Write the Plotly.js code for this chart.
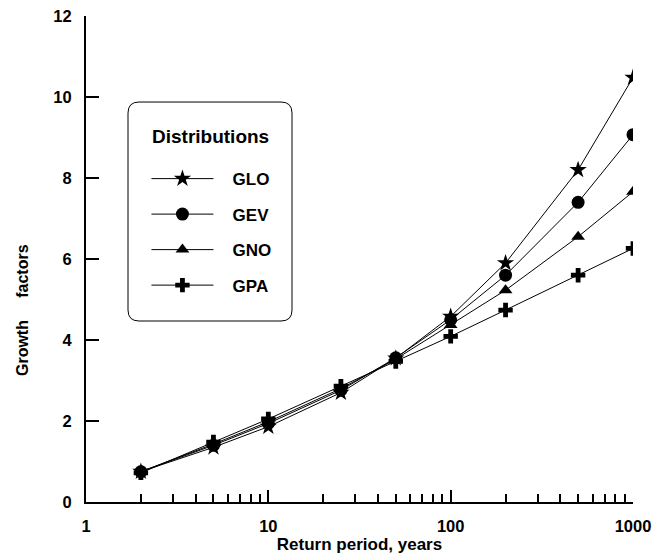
<!DOCTYPE html>
<html>
<head>
<meta charset="utf-8">
<script src="https://cdn.plot.ly/plotly-3.0.1.min.js"></script>
<style>html,body{margin:0;padding:0;background:#fff;}#chart{width:660px;height:554px;}</style>
</head>
<body>
<div id="chart"></div>
<script>
// Return periods (years)
const returnPeriods = [2, 5, 10, 25, 50, 100, 200, 500, 1000];
// Growth factors per distribution
const glo = [0.75, 1.35, 1.86, 2.70, 3.55, 4.58, 5.90, 8.20, 10.48];
const gev = [0.75, 1.40, 1.94, 2.76, 3.56, 4.50, 5.60, 7.40, 9.07];
const gno = [0.75, 1.43, 1.98, 2.80, 3.53, 4.37, 5.23, 6.55, 7.66];
const gpa = [0.72, 1.48, 2.05, 2.86, 3.47, 4.09, 4.74, 5.60, 6.26];
const seriesNames = ["GLO", "GEV", "GNO", "GPA"];
const xTickVals = [1, 10, 100, 1000];
const xTickText = ["1", "10", "100", "1000"];
const yTickVals = [0, 2, 4, 6, 8, 10, 12];
const yTickText = ["0", "2", "4", "6", "8", "10", "12"];

const FONT = "'Liberation Sans', Arial, Helvetica, sans-serif";
const symbols = ["star", "circle", "triangle-up", "cross"];
const sizes = [13, 13, 12, 12];
const ys = [glo, gev, gno, gpa];

const traces = ys.map((y, i) => ({
  x: returnPeriods,
  y: y,
  type: "scatter",
  mode: "lines+markers",
  name: "&nbsp;&nbsp;&nbsp;" + seriesNames[i],
  legendgroup: seriesNames[i],
  line: {color: "#000", width: 1},
  marker: {symbol: symbols[i], size: sizes[i], color: "#000", line: {width: 0}}
}));

// rounded legend box in paper coords
const x0 = 0.0768, x1 = 0.3766, y0 = 0.3724, y1 = 0.823;
const rx = 11 / 547, ry = 11 / 486;
const boxPath = `M ${x0+rx},${y1} L ${x1-rx},${y1} Q ${x1},${y1} ${x1},${y1-ry} L ${x1},${y0+ry} Q ${x1},${y0} ${x1-rx},${y0} L ${x0+rx},${y0} Q ${x0},${y0} ${x0},${y0+ry} L ${x0},${y1-ry} Q ${x0},${y1} ${x0+rx},${y1} Z`;

const bold = s => "<b>" + s + "</b>";

const layout = {
  width: 660, height: 554,
  margin: {l: 86, r: 27, t: 16, b: 52},
  paper_bgcolor: "#fff", plot_bgcolor: "#fff",
  font: {family: FONT, size: 15, color: "#000", weight: 700},
  showlegend: true,
  legend: {
    x: 0.1105, y: 0.7015, xanchor: "left", yanchor: "top",
    bgcolor: "rgba(0,0,0,0)", borderwidth: 0,
    font: {family: FONT, size: 17, color: "#000", weight: 700},
    itemwidth: 62, itemsizing: "trimmed",
    traceorder: "grouped", tracegroupgap: 10.4
  },
  xaxis: {
    type: "log", range: [0, 3],
    tickvals: xTickVals, ticktext: xTickText.map(bold),
    ticks: "inside", ticklen: 12, tickwidth: 2, tickcolor: "#000",
    minor: {ticks: "inside", ticklen: 8, tickwidth: 2, tickcolor: "#000", dtick: "D1", showgrid: false},
    showline: true, linewidth: 2, linecolor: "#000",
    showgrid: false, zeroline: false,
    tickfont: {family: FONT, size: 16.5, weight: 700},
    ticklabelstandoff: 8,
    title: {text: "Return period, years", font: {family: FONT, size: 17, weight: 700}, standoff: 0}
  },
  yaxis: {
    range: [0, 12], tickvals: yTickVals, ticktext: yTickText.map(bold),
    ticks: "inside", ticklen: 13, tickwidth: 2, tickcolor: "#000",
    showline: true, linewidth: 2, linecolor: "#000",
    showgrid: false, zeroline: false,
    tickfont: {family: FONT, size: 16.5, weight: 700},
    ticklabelstandoff: 9
  },
  shapes: [{type: "path", xref: "paper", yref: "paper", path: boxPath, line: {color: "#000", width: 1}, fillcolor: "rgba(0,0,0,0)", layer: "above"}],
  annotations: [{
    text: "Growth&nbsp;&nbsp;&nbsp;&nbsp; factors", textangle: -90,
    xref: "paper", yref: "paper", x: 0, y: 0.395, xanchor: "center", yanchor: "middle",
    xshift: -64, showarrow: false,
    font: {family: FONT, size: 16, color: "#000", weight: 700}
  }, {
    text: "Distributions",
    xref: "paper", yref: "paper", x: 0.2267, y: 0.753, xanchor: "center", yanchor: "middle",
    showarrow: false,
    font: {family: FONT, size: 19, color: "#000", weight: 700}
  }]
};

Plotly.newPlot("chart", traces, layout, {displayModeBar: false, staticPlot: true});
</script>
</body>
</html>
